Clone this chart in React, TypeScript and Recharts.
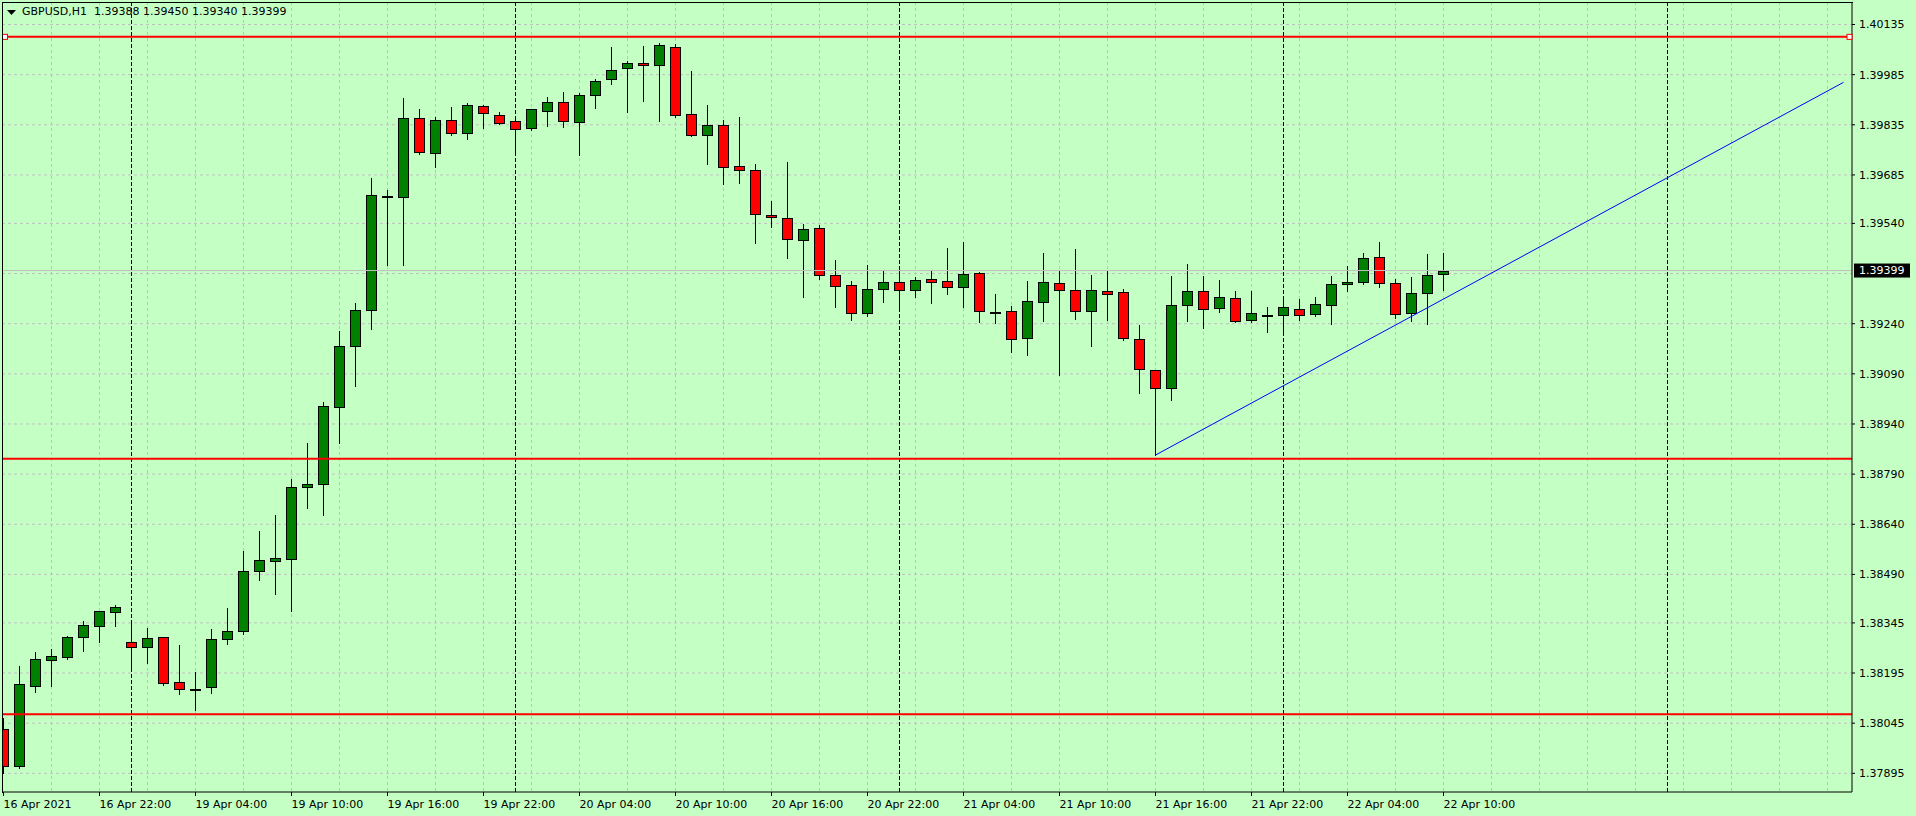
import React from 'react';
import { ComposedChart, Bar, XAxis, YAxis, CartesianGrid, ReferenceLine, ReferenceDot } from 'recharts';

// GBPUSD H1, 16 Apr 16:00 .. 22 Apr 10:00 (91 bars)
const opens = [
  1.38028, 1.37918, 1.38157, 1.38233, 1.38242, 1.38302, 1.38335, 1.38377, 1.38287, 1.38272,
  1.38302, 1.38167, 1.38148, 1.38152, 1.38296, 1.38320, 1.38499, 1.38529, 1.38537, 1.38751,
  1.38760, 1.38990, 1.39174, 1.39280, 1.39618, 1.39620, 1.39854, 1.39750, 1.39848, 1.39810,
  1.39890, 1.39863, 1.39845, 1.39825, 1.39875, 1.39902, 1.39842, 1.39923, 1.39971, 1.40004,
  1.40019, 1.40013, 1.40067, 1.39866, 1.39804, 1.39833, 1.39711, 1.39699, 1.39564, 1.39555,
  1.39489, 1.39525, 1.39385, 1.39355, 1.39271, 1.39343, 1.39364, 1.39340, 1.39373, 1.39367,
  1.39349, 1.39391, 1.39276, 1.39277, 1.39196, 1.39304, 1.39361, 1.39340, 1.39277, 1.39337,
  1.39334, 1.39193, 1.39101, 1.39047, 1.39295, 1.39337, 1.39286, 1.39316, 1.39250, 1.39266,
  1.39265, 1.39283, 1.39268, 1.39295, 1.39358, 1.39364, 1.39439, 1.39361, 1.39271, 1.39331,
  1.39388,
];
const highs = [
  1.38060, 1.38216, 1.38258, 1.38267, 1.38306, 1.38351, 1.38381, 1.38398, 1.38353, 1.38331,
  1.38303, 1.38279, 1.38197, 1.38327, 1.38390, 1.38560, 1.38620, 1.38668, 1.38775, 1.38883,
  1.39005, 1.39218, 1.39302, 1.39676, 1.39640, 1.39915, 1.39882, 1.39858, 1.39888, 1.39899,
  1.39894, 1.39872, 1.39860, 1.39882, 1.39917, 1.39933, 1.39929, 1.39971, 1.40068, 1.40025,
  1.40070, 1.40079, 1.40076, 1.39995, 1.39893, 1.39849, 1.39858, 1.39717, 1.39607, 1.39723,
  1.39537, 1.39534, 1.39431, 1.39367, 1.39415, 1.39400, 1.39412, 1.39379, 1.39400, 1.39466,
  1.39483, 1.39394, 1.39328, 1.39292, 1.39367, 1.39451, 1.39400, 1.39463, 1.39386, 1.39397,
  1.39343, 1.39237, 1.39102, 1.39382, 1.39419, 1.39382, 1.39370, 1.39337, 1.39337, 1.39289,
  1.39322, 1.39313, 1.39319, 1.39382, 1.39412, 1.39451, 1.39483, 1.39373, 1.39379, 1.39448,
  1.39450,
];
const lows = [
  1.37895, 1.37912, 1.38139, 1.38156, 1.38238, 1.38262, 1.38289, 1.38337, 1.38202, 1.38225,
  1.38160, 1.38133, 1.38084, 1.38136, 1.38281, 1.38313, 1.38474, 1.38432, 1.38381, 1.38690,
  1.38669, 1.38884, 1.39054, 1.39225, 1.39416, 1.39416, 1.39749, 1.39710, 1.39805, 1.39793,
  1.39826, 1.39836, 1.39747, 1.39819, 1.39831, 1.39829, 1.39746, 1.39886, 1.39958, 1.39874,
  1.39907, 1.39847, 1.39857, 1.39802, 1.39719, 1.39659, 1.39662, 1.39482, 1.39530, 1.39437,
  1.39321, 1.39375, 1.39289, 1.39250, 1.39262, 1.39306, 1.39280, 1.39321, 1.39303, 1.39330,
  1.39291, 1.39246, 1.39243, 1.39156, 1.39147, 1.39249, 1.39087, 1.39255, 1.39174, 1.39252,
  1.39190, 1.39034, 1.38847, 1.39011, 1.39249, 1.39228, 1.39274, 1.39244, 1.39244, 1.39216,
  1.39216, 1.39250, 1.39262, 1.39238, 1.39339, 1.39358, 1.39351, 1.39258, 1.39247, 1.39238,
  1.39340,
];
const closes = [
  1.37918, 1.38161, 1.38236, 1.38245, 1.38302, 1.38338, 1.38380, 1.38392, 1.38272, 1.38299,
  1.38164, 1.38146, 1.38148, 1.38296, 1.38320, 1.38499, 1.38532, 1.38538, 1.38751, 1.38760,
  1.38993, 1.39172, 1.39280, 1.39624, 1.39623, 1.39854, 1.39753, 1.39848, 1.39810, 1.39893,
  1.39869, 1.39839, 1.39822, 1.39881, 1.39902, 1.39845, 1.39923, 1.39965, 1.39998, 1.40019,
  1.40013, 1.40073, 1.39863, 1.39805, 1.39833, 1.39708, 1.39699, 1.39567, 1.39558, 1.39492,
  1.39522, 1.39385, 1.39352, 1.39271, 1.39343, 1.39364, 1.39340, 1.39370, 1.39364, 1.39349,
  1.39388, 1.39277, 1.39276, 1.39193, 1.39307, 1.39364, 1.39340, 1.39277, 1.39340, 1.39328,
  1.39196, 1.39104, 1.39047, 1.39295, 1.39337, 1.39283, 1.39319, 1.39247, 1.39271, 1.39266,
  1.39289, 1.39265, 1.39298, 1.39358, 1.39364, 1.39436, 1.39361, 1.39270, 1.39331, 1.39385,
  1.39399,
];

const xTickBars = [0, 6, 12, 18, 24, 30, 36, 42, 48, 54, 60, 66, 72, 78, 84, 90];
const xTickLabels = [
  '16 Apr 2021', '16 Apr 22:00', '19 Apr 04:00', '19 Apr 10:00', '19 Apr 16:00', '19 Apr 22:00',
  '20 Apr 04:00', '20 Apr 10:00', '20 Apr 16:00', '20 Apr 22:00', '21 Apr 04:00', '21 Apr 10:00',
  '21 Apr 16:00', '21 Apr 22:00', '22 Apr 04:00', '22 Apr 10:00',
];
const yTicks = [
  1.40135, 1.39985, 1.39835, 1.39685, 1.39540, 1.39240, 1.39090, 1.38940,
  1.38790, 1.38640, 1.38490, 1.38345, 1.38195, 1.38045, 1.37895,
];
const hiddenGridPrice = 1.3939; // label sits under the price tag
const daySeparators = [8, 32, 56, 80, 104];
const levels = [1.40098, 1.38836, 1.38072];
const trendStart = { x: 72, y: 1.38847 };
const trendEnd = { x: 115, y: 1.39962 };
const lastPrice = 1.39399;

const candles = opens.map((o, i) => ({
  i, o, h: highs[i], l: lows[i], c: closes[i], range: [lows[i], highs[i]],
}));

// view window (16px per bar, plot 1850x790)
const X_MIN = -0.09375;
const X_MAX = X_MIN + 1850 / 16;
const Y_MIN = 1.378391;
const Y_MAX = 1.402023;

const BG = '#c4ffc4';
const FONT = '"DejaVu Sans", sans-serif';

const gridX: number[] = [];
for (let k = 3; k < X_MAX; k += 3) gridX.push(k);
const gridY = [...yTicks, hiddenGridPrice];

const Candle = (props: any) => {
  const { x, y, width, height, payload } = props;
  const { o, h, l, c } = payload;
  const cx = Math.round(x + width / 2) + 0.5;
  const py = (p: number) => y + ((h - p) / (h - l)) * height;
  const top = Math.round(py(Math.max(o, c))) + 0.5;
  let bot = Math.round(py(Math.min(o, c))) + 0.5;
  if (bot - top < 1) bot = top + 1;
  const fill = o === c ? '#000' : c > o ? '#008000' : '#ff0000';
  return (
    <g>
      <line x1={cx} x2={cx} y1={Math.round(py(h))} y2={Math.round(py(l)) + 1} stroke="#000" strokeWidth={1} />
      <rect x={cx - 5} y={top} width={10} height={bot - top} fill={fill} stroke="#000" strokeWidth={1} />
    </g>
  );
};

const XTick = (props: any) => {
  const { x, y, payload } = props;
  const k = xTickBars.indexOf(payload.value);
  return (
    <text x={x} y={y + 10} textAnchor="start" fill="#000" fontSize={11} fontFamily={FONT}>
      {xTickLabels[k]}
    </text>
  );
};

const PriceTag = (props: any) => {
  const vb = props.viewBox;
  const right = vb.x + vb.width;
  return (
    <g>
      <rect x={right + 2} y={vb.y - 7} width={56} height={14} fill="#000" />
      <text x={right + 7} y={vb.y} dy="0.36em" fill="#fff" fontSize={11} fontFamily={FONT}>
        {lastPrice.toFixed(5)}
      </text>
    </g>
  );
};

const Marker = (props: any) => (
  <rect x={props.cx - 2.5} y={props.cy - 2.5} width={5} height={5} fill="#fff" stroke="#ff0000" strokeWidth={1} />
);

export default function App() {
  return (
    <div style={{ position: 'absolute', left: 0, top: 0, width: 1916, height: 816, background: BG, fontFamily: FONT }}>
      <ComposedChart width={1916} height={816} data={candles} margin={{ top: 2, right: 0, bottom: 0, left: 2 }}>
        <CartesianGrid horizontalValues={gridY} verticalValues={gridX} stroke="#c0c0c0" strokeDasharray="3 3" />
        <CartesianGrid horizontal={false} verticalValues={daySeparators} stroke="#000" strokeDasharray="4 2" />
        <XAxis
          type="number"
          dataKey="i"
          domain={[X_MIN, X_MAX]}
          allowDataOverflow
          ticks={xTickBars}
          interval={0}
          tick={<XTick />}
          tickSize={4}
          height={24}
          axisLine={{ stroke: '#000' }}
          tickLine={{ stroke: '#000' }}
        />
        <YAxis
          orientation="right"
          type="number"
          domain={[Y_MIN, Y_MAX]}
          allowDataOverflow
          ticks={yTicks}
          interval={0}
          width={64}
          tickSize={3}
          tickMargin={4}
          tickFormatter={(v: number) => v.toFixed(5)}
          tick={{ fill: '#000', fontSize: 11, fontFamily: FONT, textAnchor: 'start' }}
          axisLine={{ stroke: '#000' }}
          tickLine={{ stroke: '#000' }}
        />
        <ReferenceLine y={lastPrice} stroke="#c0c0c0" strokeWidth={1} label={(p: any) => <PriceTag {...p} />} />
        {levels.map((v) => (
          <ReferenceLine key={v} y={v} stroke="#ff0000" strokeWidth={2} />
        ))}
        <ReferenceDot x={X_MIN + 3 / 16} y={levels[0]} r={3} shape={<Marker />} />
        <ReferenceDot x={X_MAX - 2.5 / 16} y={levels[0]} r={3} shape={<Marker />} />
        <Bar dataKey="range" barSize={11} shape={<Candle />} isAnimationActive={false} />
        <ReferenceLine segment={[trendStart, trendEnd]} stroke="#0000ff" strokeWidth={1} />
      </ComposedChart>
      <div style={{ position: 'absolute', left: 2, top: 2, width: 1851, height: 791, borderLeft: '1px solid #000', borderTop: '1px solid #000', boxSizing: 'border-box', pointerEvents: 'none' }} />
      <svg style={{ position: 'absolute', left: 7, top: 10 }} width={9} height={6}>
        <polygon points="0,0 9,0 4.5,5" fill="#000" />
      </svg>
      <div style={{ position: 'absolute', left: 22, top: 5, fontSize: 11, color: '#000', whiteSpace: 'pre' }}>GBPUSD,H1</div>
      <div style={{ position: 'absolute', left: 94, top: 5, fontSize: 11, color: '#000', whiteSpace: 'pre' }}>1.39388 1.39450 1.39340 1.39399</div>
    </div>
  );
}
